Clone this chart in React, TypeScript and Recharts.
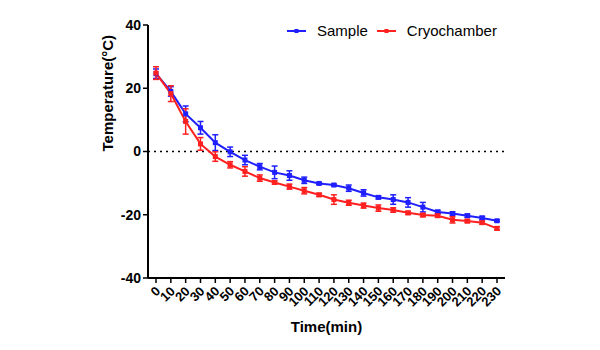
import React from "react";
import { LineChart, Line, XAxis, YAxis, ErrorBar, ReferenceLine } from "recharts";

const times = ["0", "10", "20", "30", "40", "50", "60", "70", "80", "90", "100", "110", "120", "130", "140", "150", "160", "170", "180", "190", "200", "210", "220", "230"];
const sample = [24.6, 19, 11.9, 7.5, 2.8, -0.1, -2.7, -4.8, -6.6, -7.6, -9.1, -10.1, -10.6, -11.6, -13.1, -14.5, -15.2, -16.1, -17.6, -19.1, -19.6, -20.3, -21.0, -21.9];
const sampleErr = [1.5, 1.5, 2.5, 2, 2.5, 1.5, 1.5, 1, 2, 1.5, 1, 0.3, 0.3, 1, 1, 0.5, 1.5, 1.5, 1.5, 0.5, 0.5, 0.5, 0.5, 0.3];
const cryo = [24.8, 18.3, 9.5, 2.4, -1.6, -4.2, -6.3, -8.4, -9.8, -11.1, -12.4, -13.7, -15.2, -16.2, -17.1, -17.9, -18.5, -19.4, -20.1, -20.3, -21.6, -22.0, -22.5, -24.3];
const cryoErr = [2, 2.5, 4, 2, 1.5, 1, 1.5, 1, 0.5, 0.8, 1, 0.5, 1.5, 0.8, 0.8, 1, 0.7, 0.5, 0.5, 0.5, 1, 0.5, 0.5, 0.5];
const yTicks = [-40, -20, 0, 20, 40];

const BLUE = "#1f1fff";
const RED = "#ff2020";
const FONT = "'Liberation Sans', Arial, sans-serif";

const data = times.map((t, i) => ({
  time: t,
  sample: sample[i],
  sampleErr: sampleErr[i],
  cryo: cryo[i],
  cryoErr: cryoErr[i],
}));

const squareDot = (color) => (props) => {
  const { cx, cy, index } = props;
  if (cx == null || cy == null) return null;
  return <rect key={index} x={cx - 2.5} y={cy - 2.5} width={5} height={5} fill={color} />;
};

const XTick = ({ x, y, payload }) => (
  <text
    x={x + 5}
    y={y + 7}
    transform={`rotate(-45, ${x + 5}, ${y + 7})`}
    textAnchor="end"
    fontFamily={FONT}
    fontWeight="bold"
    fontSize={13}
    fill="#000"
  >
    {payload.value}
  </text>
);

const legendItems = [
  ["Sample", BLUE],
  ["Cryochamber", RED],
];

export default function App() {
  return (
    <div style={{ position: "absolute", left: 0, top: 0, width: 600, height: 350, background: "#fff" }}>
      <LineChart width={600} height={350} data={data} margin={{ top: 25, right: 95, left: 100, bottom: 0 }}>
        <XAxis
          dataKey="time"
          interval={0}
          height={72}
          padding={{ left: 8, right: 8 }}
          tick={<XTick />}
          tickSize={5}
          axisLine={{ stroke: "#000", strokeWidth: 2 }}
          tickLine={{ stroke: "#000", strokeWidth: 1.5 }}
          label={{ value: "Time(min)", position: "insideBottom", offset: 18, fontFamily: FONT, fontWeight: "bold", fontSize: 15, fill: "#000" }}
        />
        <YAxis
          domain={[-40, 40]}
          ticks={yTicks}
          width={48}
          tickSize={5}
          axisLine={{ stroke: "#000", strokeWidth: 2 }}
          tickLine={{ stroke: "#000", strokeWidth: 1.5 }}
          tick={{ fontFamily: FONT, fontWeight: "bold", fontSize: 14, fill: "#000" }}
          label={{ value: "Temperature(°C)", angle: -90, position: "insideLeft", offset: 8, fontFamily: FONT, fontWeight: "bold", fontSize: 15, fill: "#000" }}
        />
        <ReferenceLine y={0} stroke="#000" strokeWidth={1.5} strokeDasharray="2 4" />
        <Line dataKey="sample" name="Sample" stroke={BLUE} strokeWidth={2} dot={squareDot(BLUE)} isAnimationActive={false}>
          <ErrorBar dataKey="sampleErr" width={3} stroke={BLUE} strokeWidth={1.5} direction="y" isAnimationActive={false} />
        </Line>
        <Line dataKey="cryo" name="Cryochamber" stroke={RED} strokeWidth={2} dot={squareDot(RED)} isAnimationActive={false}>
          <ErrorBar dataKey="cryoErr" width={3} stroke={RED} strokeWidth={1.5} direction="y" isAnimationActive={false} />
        </Line>
      </LineChart>
      <div style={{ position: "absolute", top: 22, left: 286, display: "flex", fontFamily: FONT, fontSize: 15, lineHeight: "18px", color: "#000" }}>
        {legendItems.map(([name, color]) => (
          <div key={name} style={{ display: "flex", alignItems: "center", marginRight: 8 }}>
            <svg width={21} height={10} style={{ marginRight: 10 }}>
              <line x1={1} y1={5} x2={20} y2={5} stroke={color} strokeWidth={2} />
              <rect x={8.5} y={3} width={4} height={4} fill={color} />
            </svg>
            <span>{name}</span>
          </div>
        ))}
      </div>
    </div>
  );
}
